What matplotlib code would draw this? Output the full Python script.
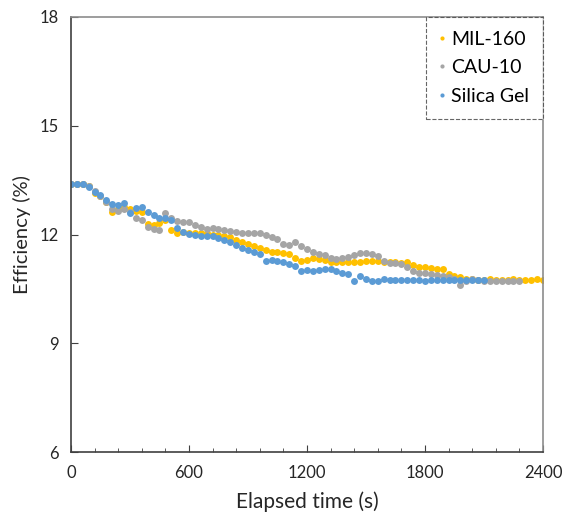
import numpy as np
import matplotlib.pyplot as plt
from matplotlib.ticker import MultipleLocator

plt.rcParams['font.family'] = ['Lato', 'DejaVu Sans']

# time stamps (s), one every 30 s
t = np.arange(0, 2401, 30)

# MIL-160 efficiency (%), 0..2400 s
mil160 = [13.40, 13.40, 13.38, 13.35, 13.15, 13.05, 12.90, 12.62, 12.70, 12.75,
          12.70, 12.65, 12.62, 12.30, 12.25, 12.32, 12.40, 12.12, 12.05, 12.08,
          12.05, 12.03, 12.04, 12.05, 12.00, 11.98, 11.96, 11.92, 11.85, 11.80,
          11.75, 11.68, 11.62, 11.58, 11.53, 11.52, 11.50, 11.47, 11.35, 11.27,
          11.30, 11.34, 11.33, 11.30, 11.25, 11.23, 11.23, 11.24, 11.23, 11.24,
          11.26, 11.27, 11.26, 11.24, 11.24, 11.23, 11.22, 11.23, 11.15, 11.10,
          11.10, 11.08, 11.06, 11.04, 10.90, 10.85, 10.82, 10.78, 10.76, 10.75,
          10.75, 10.76, 10.75, 10.74, 10.75, 10.76, 10.75, 10.74, 10.75, 10.76,
          10.75]

# CAU-10 efficiency (%), 0..2280 s
cau10 = [13.40, 13.40, 13.38, 13.35, 13.20, 13.05, 12.90, 12.70, 12.65, 12.70,
         12.62, 12.45, 12.40, 12.20, 12.15, 12.12, 12.60, 12.45, 12.38, 12.35,
         12.35, 12.25, 12.20, 12.15, 12.18, 12.15, 12.12, 12.10, 12.08, 12.05,
         12.04, 12.05, 12.03, 11.98, 11.93, 11.88, 11.75, 11.72, 11.80, 11.68,
         11.60, 11.52, 11.47, 11.43, 11.35, 11.32, 11.36, 11.38, 11.44, 11.48,
         11.50, 11.47, 11.40, 11.28, 11.22, 11.22, 11.20, 11.10, 11.00, 10.93,
         10.93, 10.90, 10.88, 10.85, 10.82, 10.76, 10.62, 10.72, 10.76, 10.74,
         10.72, 10.72, 10.71, 10.72, 10.72, 10.71, 10.72]

# Silica Gel efficiency (%), 0..2100 s
silica = [13.40, 13.38, 13.38, 13.32, 13.17, 13.08, 12.95, 12.85, 12.80, 12.88,
          12.60, 12.72, 12.75, 12.62, 12.55, 12.45, 12.45, 12.40, 12.18, 12.08,
          12.02, 12.00, 11.97, 11.96, 11.95, 11.90, 11.84, 11.80, 11.70, 11.63,
          11.58, 11.53, 11.45, 11.28, 11.30, 11.27, 11.23, 11.20, 11.12, 11.00,
          11.02, 11.00, 11.01, 11.05, 11.06, 10.98, 10.94, 10.90, 10.72, 10.85,
          10.78, 10.72, 10.72, 10.76, 10.74, 10.74, 10.74, 10.75, 10.74, 10.74,
          10.73, 10.74, 10.74, 10.75, 10.74, 10.74, 10.74, 10.74, 10.75, 10.74,
          10.74]

series = [("MIL-160", mil160, "#FFC000"),
          ("CAU-10", cau10, "#A5A5A5"),
          ("Silica Gel", silica, "#5B9BD5")]

fig = plt.figure(figsize=(5.72, 5.21), dpi=100)
ax = fig.add_axes([0.1241, 0.1324, 0.8252, 0.835])

for name, vals, col in series:
    ax.plot(t[:len(vals)], vals, 'o', ms=5.0, mew=0, color=col, label=name)

ax.set_xlim(0, 2400)
ax.set_ylim(6, 18)
ax.xaxis.set_major_locator(MultipleLocator(600))
ax.xaxis.set_minor_locator(MultipleLocator(120))
ax.yaxis.set_major_locator(MultipleLocator(3))
ax.tick_params(axis='both', which='major', direction='in', length=5,
               labelsize=12, colors='#404040', labelcolor='#262626')
ax.tick_params(axis='x', which='minor', direction='in', length=3, color='#404040')
ax.tick_params(axis='x', pad=9)
ax.tick_params(axis='y', pad=9)

for s in ['left', 'bottom']:
    ax.spines[s].set_color('#404040')
    ax.spines[s].set_linewidth(1.2)
for s in ['top', 'right']:
    ax.spines[s].set_color('#8C8C8C')
    ax.spines[s].set_linewidth(1.2)

ax.set_xlabel('Elapsed time (s)', fontsize=15, color='#262626', labelpad=8)
ax.set_ylabel('Efficiency (%)', fontsize=14.5, color='#262626', labelpad=6)

leg = ax.legend(loc='upper right', bbox_to_anchor=(1.0, 1.0), fontsize=14,
                markerscale=0.6, handletextpad=0.4, handlelength=0.2,
                borderpad=0.7, labelspacing=0.6, fancybox=False,
                borderaxespad=0)
frame = leg.get_frame()
frame.set_edgecolor('#404040')
frame.set_linestyle('--')
frame.set_linewidth(0.8)

fig.savefig('out.png', dpi=100)
